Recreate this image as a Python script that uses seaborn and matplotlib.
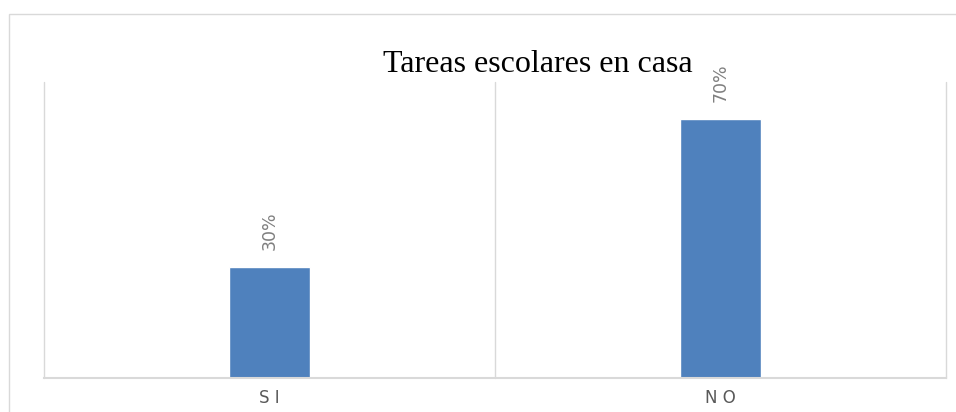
import matplotlib
matplotlib.use("Agg")
import matplotlib.pyplot as plt
import seaborn as sns
import pandas as pd
from matplotlib.patches import Rectangle

# donnees
categorias = ["SI", "NO"]
valores = [0.30, 0.70]
etiquetas = ["30%", "70%"]

df = pd.DataFrame({"respuesta": categorias, "valor": valores})

sns.set_style("white")
fig = plt.figure(figsize=(9.56, 4.12), dpi=100)
ax = fig.add_axes([44 / 956, 34 / 412, 902 / 956, 296 / 412])

sns.barplot(data=df, x="respuesta", y="valor", color="#4F81BD", width=0.18,
            saturation=1, ax=ax)

ax.set_xlim(-0.5, 1.5)
ax.set_ylim(0, 0.8)

# lignes verticales entre categories
for xv in [-0.5, 0.5, 1.5]:
    ax.axvline(xv, color="#D9D9D9", lw=1, zorder=0, clip_on=False)

for i, v in enumerate(valores):
    ax.text(i, v + 0.045, etiquetas[i], rotation=90, ha="center", va="bottom",
            color="#7F7F7F", fontsize=12.5)

for s in ["top", "right", "left"]:
    ax.spines[s].set_visible(False)
ax.spines["bottom"].set_color("#D9D9D9")
ax.spines["bottom"].set_linewidth(1.5)

ax.set_yticks([])
ax.set_xlabel("")
ax.set_ylabel("")
ax.set_xticks([0, 1], ["S I", "N O"])
ax.tick_params(axis="x", length=0, pad=8, labelsize=12, labelcolor="#595959")

fig.text(538 / 956, 1 - 65 / 412, "Tareas escolares en casa", ha="center",
         va="center", fontsize=23, family="Liberation Serif", color="black")

# cadre du graphique
fig.patches.append(Rectangle((9 / 956, -0.1), 1.2, 1 - 14 / 412 + 0.1,
                             transform=fig.transFigure, fill=False,
                             edgecolor="#D9D9D9", lw=1))

fig.savefig("out.png", dpi=100)
